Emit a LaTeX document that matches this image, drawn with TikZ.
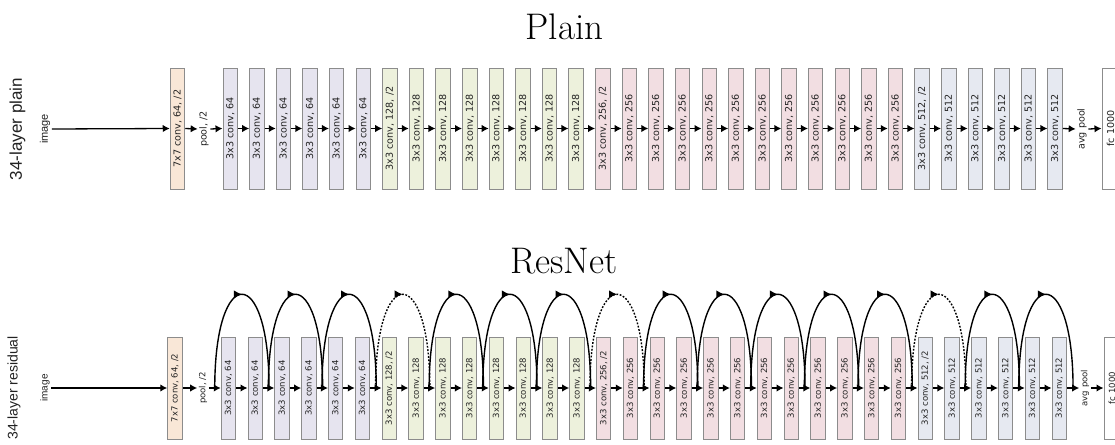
\documentclass[tikz,border=0pt]{standalone}
\usepackage{fontspec}
\newfontfamily\boxfont{DejaVu Sans}
\newfontfamily\sidefont{Liberation Sans}
\usetikzlibrary{arrows.meta,calc,decorations.markings}
\definecolor{c77}{HTML}{F9E7D7}
\definecolor{c64}{HTML}{E6E4EF}
\definecolor{c128}{HTML}{EDF1DC}
\definecolor{c256}{HTML}{F2DEE2}
\definecolor{c512}{HTML}{E6E9F1}
\definecolor{edgegray}{HTML}{8C8C8C}
\definecolor{ink}{HTML}{222222}
\tikzset{
  box/.style={draw=edgegray, line width=1pt, inner sep=0pt, minimum width=14.5pt, text=ink},
  tbox/.style={box, minimum height=121pt, font=\boxfont\fontsize{9.6}{10}\selectfont},
  bbox/.style={box, minimum height=102pt, font=\boxfont\fontsize{8.5}{9}\selectfont},
  tlbl/.style={inner sep=1.5pt, text=ink, font=\boxfont\fontsize{9.6}{10}\selectfont},
  blbl/.style={inner sep=1.5pt, text=ink, font=\boxfont\fontsize{8.5}{9}\selectfont},
  flow/.style={-{Latex[length=7pt,width=7.5pt]}, line width=1.3pt, black},
  skiparc/.style={line width=1.4pt, black, postaction={decorate},
    decoration={markings, mark=at position 0.5 with {\arrow{Latex[length=8pt,width=8pt]}}}},
  skipdot/.style={skiparc, dash pattern=on 1.8pt off 1.6pt},
  title/.style={anchor=base, inner sep=0pt, font=\fontsize{37}{40}\selectfont},
}
\newcommand\convsetup[1]{%
  \ifnum#1<6 \def\ch{64}\def\cc{c64}\else
  \ifnum#1<14 \def\ch{128}\def\cc{c128}\else
  \ifnum#1<26 \def\ch{256}\def\cc{c256}\else
  \def\ch{512}\def\cc{c512}\fi\fi\fi
  \def\sfx{}%
  \ifnum#1=6 \def\sfx{, /2}\fi
  \ifnum#1=14 \def\sfx{, /2}\fi
  \ifnum#1=26 \def\sfx{, /2}\fi}
\begin{document}
\begin{tikzpicture}[x=1pt,y=-1pt]
\useasboundingbox (0,0) rectangle (1115,444);
\clip (0,0) rectangle (1115,444);
\fill[white] (0,0) rectangle (1115,444);

% ---------- titles ----------
\node[title] (plain) at (564.5,40) {Plain};
\node[title] (resnet) at (564,273) {ResNet};

% ---------- top row (plain) ----------
\node[inner sep=0pt, text=ink, font=\sidefont\fontsize{17}{18}\selectfont] (tside) at (17.5,129) {\rotatebox{90}{34-layer plain}};
\node[inner sep=1.5pt, text=ink, font=\sidefont\fontsize{11}{12}\selectfont] (timg) at (45,129) {\rotatebox{90}{image}};
\node[tbox, fill=c77] (t77) at (177.5,128.5) {\rotatebox{90}{7x7 conv, 64, /2}};
\node[tlbl] (tpool) at (204,129) {\rotatebox{90}{pool, /2}};
\foreach \i in {0,...,31}{
  \convsetup{\i}
  \node[tbox, fill=\cc] (t\i) at ({230.3+26.61*\i},128.5) {\rotatebox{90}{3x3 conv, \ch\sfx}};
}
\node[tlbl] (tavg) at (1082,129) {\rotatebox{90}{avg pool}};
\node[tbox, fill=white, minimum width=17pt] (tfc) at (1110.5,128.5) {\rotatebox{90}{fc 1000}};

\draw[flow] (timg.east) -- (t77.west);
\draw[flow] (t77.east) -- (tpool.west);
\draw[flow] (tpool.east) -- (t0.west);
\foreach \i in {0,...,30}{
  \pgfmathtruncatemacro\j{\i+1}
  \draw[flow] (t\i.east) -- (t\j.west);
}
\draw[flow] (t31.east) -- (tavg.west);
\draw[flow] (tavg.east) -- (tfc.west);

% ---------- bottom row (residual) ----------
\node[inner sep=0pt, text=ink, font=\sidefont\fontsize{14}{15}\selectfont] (bside) at (14,388) {\rotatebox{90}{34-layer residual}};
\node[inner sep=1.5pt, text=ink, font=\sidefont\fontsize{10}{11}\selectfont] (bimg) at (45,388) {\rotatebox{90}{image}};
\node[bbox, fill=c77] (b77) at (175,388) {\rotatebox{90}{7x7 conv, 64, /2}};
\node[blbl] (bpool) at (203,388) {\rotatebox{90}{pool, /2}};
\foreach \i in {0,...,31}{
  \convsetup{\i}
  \node[bbox, fill=\cc] (b\i) at ({228.5+26.8*\i},388) {\rotatebox{90}{3x3 conv, \ch\sfx}};
}
\node[blbl] (bavg) at (1085,388) {\rotatebox{90}{avg pool}};
\node[bbox, fill=white, minimum width=16pt] (bfc) at (1112,388) {\rotatebox{90}{fc 1000}};

\draw[flow] (bimg.east) -- (b77.west);
\draw[flow] (b77.east) -- (bpool.west);
\draw[flow] (bpool.east) -- (b0.west);
\foreach \i in {0,...,30}{
  \pgfmathtruncatemacro\j{\i+1}
  \draw[flow] (b\i.east) -- (b\j.west);
}
\draw[flow] (b31.east) -- (bavg.west);
\draw[flow] (bavg.east) -- (bfc.west);

% skip connections
\foreach \k in {0,...,15}{
  \pgfmathtruncatemacro\a{2*\k}
  \pgfmathtruncatemacro\b{2*\k+1}
  \ifnum\k=3 \def\st{skipdot}\else
  \ifnum\k=7 \def\st{skipdot}\else
  \ifnum\k=13 \def\st{skipdot}\else \def\st{skiparc}\fi\fi\fi
  \draw[\st] ($(b\a.west)+(-6,0)$) .. controls +(0,-125) and +(0,-125) .. ($(b\b.east)+(6,0)$);
}
\end{tikzpicture}
\end{document}
